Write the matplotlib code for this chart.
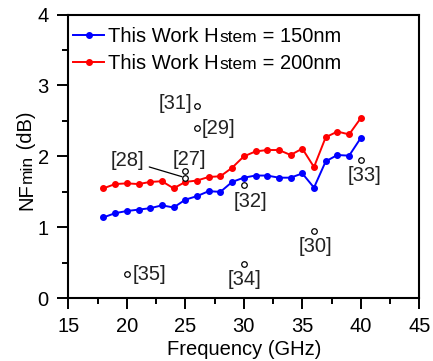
import matplotlib
matplotlib.use("Agg")
import matplotlib.pyplot as plt
from matplotlib.lines import Line2D
from matplotlib.ticker import MultipleLocator
from matplotlib.transforms import IdentityTransform

plt.rcParams['font.family'] = ['Liberation Sans', 'DejaVu Sans']

# Minimum noise figure vs frequency for the two stem heights
freq = list(range(18, 41))
nf_150 = [1.14, 1.20, 1.23, 1.25, 1.27, 1.31, 1.28, 1.39, 1.44, 1.51, 1.50,
          1.64, 1.70, 1.73, 1.73, 1.70, 1.70, 1.76, 1.56, 1.93, 2.02, 2.01, 2.26]
nf_200 = [1.55, 1.61, 1.62, 1.61, 1.64, 1.65, 1.55, 1.64, 1.66, 1.71, 1.72,
          1.84, 2.00, 2.07, 2.09, 2.09, 2.02, 2.11, 1.85, 2.27, 2.35, 2.31, 2.54]

# Published results used for comparison
ref_labels = ['[31]', '[29]', '[27]', '[28]', '[32]', '[33]', '[30]', '[34]', '[35]']
ref_freq = [26, 26, 25, 25, 30, 40, 36, 30, 20]
ref_nf = [2.71, 2.40, 1.79, 1.70, 1.59, 1.95, 0.95, 0.48, 0.34]

# label offsets (points) and alignment for each reference
ref_offsets = {
    '[31]': ((-3.5, 2.0), 'right', 'center'),
    '[29]': ((3.0, 0.0), 'left', 'center'),
    '[27]': ((3.0, 8.5), 'center', 'center'),
    '[28]': ((-42.0, 12.5), 'center', 'center'),
    '[32]': ((5.0, -11.5), 'center', 'center'),
    '[33]': ((2.5, -11.5), 'center', 'center'),
    '[30]': ((1.2, -11.5), 'center', 'center'),
    '[34]': ((0.7, -11.0), 'center', 'center'),
    '[35]': ((4.0, 0.0), 'left', 'center'),
}

FS = 14.5
W, H = 433, 361
fig = plt.figure(figsize=(W / 100, H / 100), dpi=100)
ax = fig.add_axes([68.3 / W, 1 - 298.3 / H, 351.0 / W, 283.8 / H])

ax.plot(freq, nf_150, '-o', color='#0000ff', lw=1.4, ms=4.0, zorder=3)
ax.plot(freq, nf_200, '-o', color='#ff0000', lw=1.4, ms=4.0, zorder=3)

ax.plot(ref_freq, ref_nf, 'o', ls='none', mfc='white', mec='black',
        ms=4.0, mew=0.9, zorder=4)

for lab, fx, fy in zip(ref_labels, ref_freq, ref_nf):
    (dx, dy), ha, va = ref_offsets[lab]
    if lab == '[28]':
        ax.annotate(lab, xy=(fx, fy), xytext=(dx, dy), textcoords='offset points',
                    ha=ha, va=va, fontsize=FS, color='#222222',
                    arrowprops=dict(arrowstyle='-', color='black', lw=0.9,
                                    shrinkA=2, shrinkB=2.5))
    else:
        ax.annotate(lab, xy=(fx, fy), xytext=(dx, dy), textcoords='offset points',
                    ha=ha, va=va, fontsize=FS, color='#222222')

ax.set_xlim(15, 45)
ax.set_ylim(0, 4)
ax.xaxis.set_major_locator(MultipleLocator(5))
ax.xaxis.set_minor_locator(MultipleLocator(2.5))
ax.yaxis.set_major_locator(MultipleLocator(1))
ax.yaxis.set_minor_locator(MultipleLocator(0.5))
ax.tick_params(which='both', direction='out', width=1.4, labelsize=FS,
               top=False, right=False, colors='black')
ax.tick_params(which='major', length=8)
ax.tick_params(which='minor', length=4.5)
ax.tick_params(axis='x', pad=5.5)
ax.tick_params(axis='y', pad=6)
for sp in ax.spines.values():
    sp.set_linewidth(1.5)

ax.set_xlabel('Frequency (GHz)', fontsize=FS, labelpad=3)

handles = [Line2D([], [], color='#0000ff', marker='o', lw=1.4, ms=4.0),
           Line2D([], [], color='#ff0000', marker='o', lw=1.4, ms=4.0)]
leg = ax.legend(handles, ['This Work H', 'This Work H'], loc='upper left',
                bbox_to_anchor=(0.0134, 0.955), frameon=False, fontsize=FS,
                handlelength=1.55, handletextpad=0.2, labelspacing=0.37,
                borderaxespad=0.0, borderpad=0.0, markerscale=1.0)

fig.canvas.draw()
renderer = fig.canvas.get_renderer()


def chain_text(x, y, pieces, rotation=0):
    """Write text pieces of different sizes one after another on a common baseline."""
    for s, size in pieces:
        t = fig.text(x, y, s, fontsize=size, transform=IdentityTransform(),
                     ha='left', va='baseline', rotation=rotation,
                     rotation_mode='anchor')
        bb = t.get_window_extent(renderer)
        if rotation == 0:
            x = bb.x1
        else:
            y = bb.y1
    return x, y


suffixes = ['= 150nm', '= 200nm']
for t, suf in zip(leg.get_texts(), suffixes):
    bx, by = t.get_transform().transform(t.get_position())
    bb = t.get_window_extent(renderer)
    chain_text(bb.x1 + 1, by, [('stem', 12.5), (' ' + suf, FS)])

# y-axis label: NF with a small "min" on the baseline
pieces = [('NF', FS), ('min', 12.5), (' (dB)', FS)]
total = 0
for s, size in pieces:
    t = fig.text(0, 0, s, fontsize=size, rotation=90, rotation_mode='anchor',
                 ha='left', va='baseline')
    total += t.get_window_extent(renderer).height
    t.remove()
chain_text(32, (H - 160.8) - total / 2, pieces, rotation=90)

fig.savefig('out.png', dpi=100)
